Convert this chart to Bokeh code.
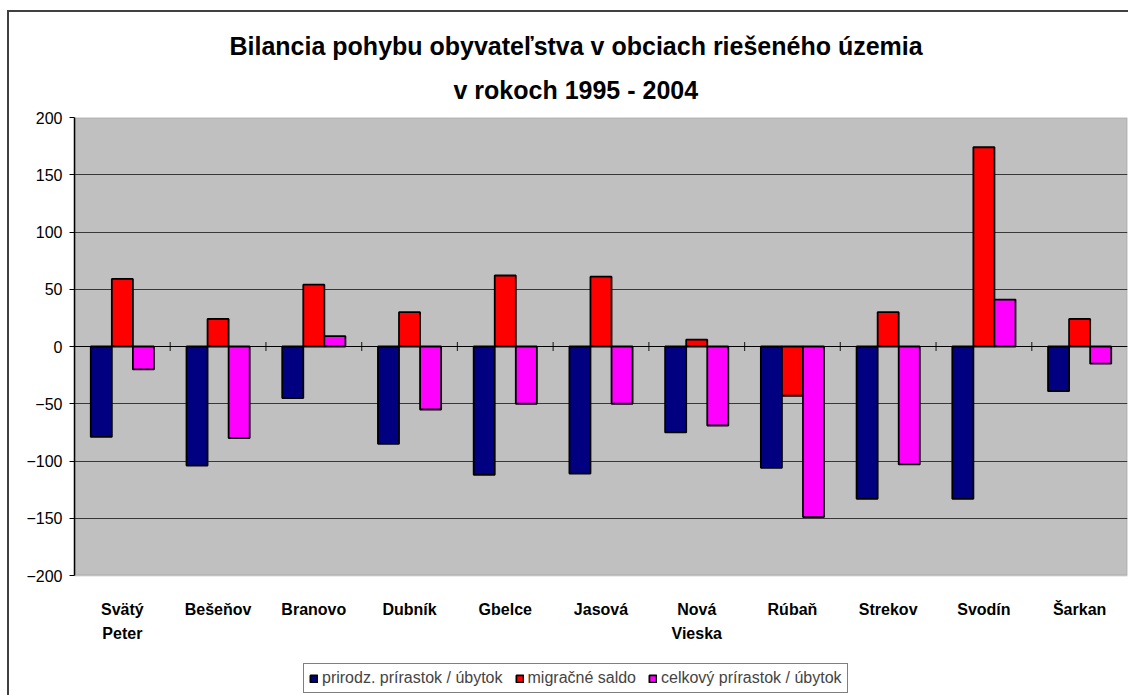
from bokeh.plotting import figure
from bokeh.models import (Legend, LegendItem, Title, Span, Range1d, FactorRange, ColumnDataSource,
                          FixedTicker, BoxAnnotation)
from bokeh.core.properties import value
from bokeh.transform import dodge
from bokeh.embed import file_html
from bokeh.resources import INLINE

categories = ["Svätý\nPeter", "Bešeňov", "Branovo", "Dubník", "Gbelce", "Jasová",
              "Nová\nVieska", "Rúbaň", "Strekov", "Svodín", "Šarkan"]
prirodzeny = [-79, -104, -45, -85, -112, -111, -75, -106, -133, -133, -39]
migracne = [59, 24, 54, 30, 62, 61, 6, -43, 30, 174, 24]
celkovy = [-20, -80, 9, -55, -50, -50, -69, -149, -103, 41, -15]
series_names = ["prirodz. prírastok / úbytok", "migračné saldo", "celkový prírastok / úbytok"]
series_colors = ["#000080", "#FF0000", "#FF00FF"]
y_ticks = [-200, -150, -100, -50, 0, 50, 100, 150, 200]
title_lines = ["Bilancia pohybu obyvateľstva v obciach riešeného územia", "v rokoch 1995 - 2004"]

src = ColumnDataSource(dict(cat=categories, a=prirodzeny, b=migracne, c=celkovy))
sep_src = ColumnDataSource(dict(cat=categories[1:], y=[0] * (len(categories) - 1)))

border_css = {
    "background-color": "white",
    "background-image": "linear-gradient(#404040, #404040), linear-gradient(#404040, #404040)",
    "background-size": "2px 100%, 100% 2px",
    "background-position": "7px 10px, 7px 10px",
    "background-repeat": "no-repeat",
}

# the frame extends below the value axis so that the category labels and the legend sit inside it
y_min, y_max = y_ticks[0], y_ticks[-1]
p = figure(frame_width=1053, frame_height=578, x_range=FactorRange(*categories),
           y_range=Range1d(-304.8, y_max),
           output_backend="svg", toolbar_location=None,
           min_border_left=74, min_border_right=1, min_border_top=117, min_border_bottom=0,
           background_fill_color="white", border_fill_color=None, styles=border_css)
p.title = None
p.outline_line_color = None

for t, so, off in [(title_lines[1], 28, 379), (title_lines[0], 0, 155)]:
    p.add_layout(Title(text=t, align="left", offset=off, text_font="Liberation Sans",
                       text_font_size="25px", text_font_style="bold", text_color="black",
                       text_line_height=0.8, standoff=so), "above")

# grey plot area
p.add_layout(BoxAnnotation(bottom=y_min, top=y_max, fill_color="#C0C0C0", fill_alpha=1.0,
                           line_color="#808080", line_width=2, level="image"))

bw = 0.22
renderers = []
for key, off, col in zip(["a", "b", "c"], [-bw, 0, bw], series_colors):
    r = p.vbar(x=dodge("cat", off, range=p.x_range), top=key, bottom=0, width=bw, source=src,
               fill_color=col, line_color="black", line_width=1.8)
    renderers.append(r)

# zero line and category separators
p.add_layout(Span(location=0, dimension="width", line_color="black", line_width=1.2))
p.scatter(x=dodge("cat", -0.5, range=p.x_range), y="y", source=sep_src, marker="dash",
          angle=1.5708, size=9, line_color="#303030", line_width=1.2)

# category labels
p.text(x="cat", y=-222, text="cat", source=src, text_font=value("Liberation Sans"),
       text_font_style="bold", text_font_size="16px", text_color="black",
       text_align="center", text_baseline="top", text_line_height=1.45)

p.xaxis.visible = False

p.yaxis.ticker = FixedTicker(ticks=y_ticks)
p.yaxis.bounds = (y_min, y_max)
p.yaxis.major_label_text_font = "Liberation Sans"
p.yaxis.major_label_text_font_size = "16px"
p.yaxis.major_label_text_color = "black"
p.yaxis.major_tick_out = 5
p.yaxis.major_tick_in = 0
p.yaxis.minor_tick_out = 0
p.yaxis.minor_tick_in = 0
p.yaxis.major_label_standoff = 7
p.yaxis.axis_line_color = "black"
p.yaxis.axis_line_width = 1.5
p.yaxis.major_tick_line_color = "black"

p.xgrid.grid_line_color = None
p.ygrid.ticker = FixedTicker(ticks=y_ticks[1:-1])
p.ygrid.grid_line_color = "#383838"
p.ygrid.grid_line_width = 1

legend = Legend(items=[LegendItem(label=n, renderers=[r]) for n, r in zip(series_names, renderers)],
                orientation="horizontal", location=(229, 2),
                border_line_color="black", border_line_width=1, background_fill_color="white",
                background_fill_alpha=1.0,
                label_text_font="Liberation Sans", label_text_font_size="16px",
                glyph_width=9, glyph_height=9, label_standoff=4, spacing=12,
                padding=5, margin=0, label_height=14)
p.add_layout(legend, "center")

open("out.html", "w").write(file_html(p, INLINE))
